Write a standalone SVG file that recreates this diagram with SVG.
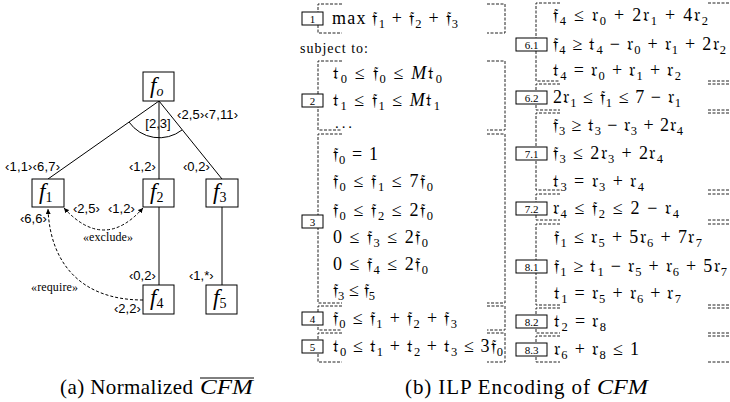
<svg xmlns="http://www.w3.org/2000/svg" width="730" height="402" viewBox="0 0 730 402">
<defs>
<marker id="ah" viewBox="0 0 6 6" refX="6" refY="3" markerWidth="5" markerHeight="5" orient="auto-start-reverse"><path d="M0,0 L6,3 L0,6 z" fill="#000"/></marker>
</defs>
<style>
.b{fill:#fff;stroke:#000;stroke-width:1}
.ln{fill:none;stroke:#000;stroke-width:1}
.dc{fill:none;stroke:#000;stroke-width:1;stroke-dasharray:3 2}
.d{fill:none;stroke:#222;stroke-width:1;stroke-dasharray:3 1.5}
.m{font-family:"Liberation Serif","DejaVu Serif",serif;font-size:18px;fill:#000}
.s{font-size:12.5px}
.i{font-style:italic}
.lb{font-family:"Liberation Serif",serif;font-size:11px;text-anchor:middle;fill:#000}
.c{font-family:"Liberation Sans",Arial,sans-serif;font-size:13px;fill:#000}
.n{font-family:"Liberation Serif",serif;font-size:23px;font-style:italic;fill:#000}
.ns{font-size:14px}
.st{font-family:"Liberation Serif",serif;font-size:12px;fill:#000}
.cap{font-family:"Liberation Serif",serif;font-size:21px;fill:#000}
</style>
<rect width="730" height="402" fill="#fff"/>

<!-- Left panel connectors -->
<g id="connectors">
<path class="ln" d="M159,101 L48,179 M159,101 L159,179 M159,101 L222,179 M159,207 L159,285 M222,207 L222,285"/>
<path class="ln" d="M129,122 A37,37 0 0 0 182,130"/>
<path class="dc" d="M64,208 Q104,252 143,208" marker-start="url(#ah)" marker-end="url(#ah)"/>
<path class="dc" d="M143,300 C80,300 50,262 48,209" marker-end="url(#ah)"/>
<text class="c" x="158" y="128" text-anchor="middle">[2,3]</text>
<text class="c" x="177" y="119" textLength="61">‹2,5›‹7,11›</text>
<text class="c" x="5" y="171" textLength="55">‹1,1›‹6,7›</text>
<text class="c" x="129" y="171">‹1,2›</text>
<text class="c" x="183" y="171">‹0,2›</text>
<text class="c" x="73" y="213">‹2,5›</text>
<text class="c" x="108" y="213">‹1,2›</text>
<text class="c" x="20" y="223">‹6,6›</text>
<text class="st" x="83" y="241" textLength="50">«exclude»</text>
<text class="c" x="129" y="280">‹0,2›</text>
<text class="c" x="189" y="280">‹1,*›</text>
<text class="st" x="31" y="291" textLength="47">«require»</text>
<text class="c" x="114" y="313">‹2,2›</text>
</g>

<g id="fo"><rect class="b" x="143" y="72" width="31" height="29"/><text class="n" x="150" y="93">f<tspan class="ns" dy="3">o</tspan></text></g>
<g id="f1"><rect class="b" x="32" y="179" width="32" height="28"/><text class="n" x="39" y="199">f<tspan class="ns" dy="3" style="font-style:normal">1</tspan></text></g>
<g id="f2"><rect class="b" x="143" y="179" width="31" height="28"/><text class="n" x="150" y="199">f<tspan class="ns" dy="3" style="font-style:normal">2</tspan></text></g>
<g id="f3"><rect class="b" x="206" y="179" width="32" height="28"/><text class="n" x="213" y="199">f<tspan class="ns" dy="3" style="font-style:normal">3</tspan></text></g>
<g id="f4"><rect class="b" x="143" y="285" width="31" height="29"/><text class="n" x="150" y="305">f<tspan class="ns" dy="3" style="font-style:normal">4</tspan></text></g>
<g id="f5"><rect class="b" x="206" y="285" width="31" height="29"/><text class="n" x="213" y="305">f<tspan class="ns" dy="3" style="font-style:normal">5</tspan></text></g>

<g id="capA"><text class="cap" x="60" y="394" textLength="133">(a) Normalized</text><text class="cap i" x="200" y="394" style="font-size:22px" textLength="53" lengthAdjust="spacingAndGlyphs">CFM</text><line x1="200" y1="378" x2="254" y2="378" stroke="#000" stroke-width="1"/></g>

<!-- Middle column -->
<g id="c1">
<path class="d" d="M342,4 H318 V33 H342 M487,4 H505 V33 H487"/>
<rect class="b" x="302" y="12" width="21" height="13"/><text class="lb" x="312.5" y="23">1</text>
<text class="m" x="332" y="24" textLength="126">max 𝔣<tspan class="s" dy="4">1</tspan><tspan dy="-4"> + 𝔣</tspan><tspan class="s" dy="4">2</tspan><tspan dy="-4"> + 𝔣</tspan><tspan class="s" dy="4">3</tspan></text>
</g>
<text class="st" x="300" y="53" style="font-size:14px" textLength="68">subject to:</text>
<g id="c2">
<path class="d" d="M342,61 H318 V130 H342 M487,61 H505 V130 H487"/>
<rect class="b" x="302" y="94" width="21" height="13"/><text class="lb" x="312.5" y="105">2</text>
<text class="m" x="333" y="79" textLength="109">𝔱<tspan class="s" dy="4">0</tspan><tspan dy="-4"> ≤ 𝔣</tspan><tspan class="s" dy="4">0</tspan><tspan dy="-4"> ≤ </tspan><tspan class="i">M</tspan>𝔱<tspan class="s" dy="4">0</tspan></text>
<text class="m" x="333" y="106" textLength="107">𝔱<tspan class="s" dy="4">1</tspan><tspan dy="-4"> ≤ 𝔣</tspan><tspan class="s" dy="4">1</tspan><tspan dy="-4"> ≤ </tspan><tspan class="i">M</tspan>𝔱<tspan class="s" dy="4">1</tspan></text>
<text class="m" x="335" y="128" style="font-size:15px" textLength="17">. . .</text>
</g>
<g id="c3">
<path class="d" d="M342,134 H318 V303 H342 M487,134 H505 V303 H487"/>
<rect class="b" x="302" y="215" width="21" height="13"/><text class="lb" x="312.5" y="226">3</text>
<text class="m" x="333" y="160" textLength="45">𝔣<tspan class="s" dy="4">0</tspan><tspan dy="-4"> = 1</tspan></text>
<text class="m" x="333" y="187" textLength="100">𝔣<tspan class="s" dy="4">0</tspan><tspan dy="-4"> ≤ 𝔣</tspan><tspan class="s" dy="4">1</tspan><tspan dy="-4"> ≤ 7𝔣</tspan><tspan class="s" dy="4">0</tspan></text>
<text class="m" x="333" y="216" textLength="100">𝔣<tspan class="s" dy="4">0</tspan><tspan dy="-4"> ≤ 𝔣</tspan><tspan class="s" dy="4">2</tspan><tspan dy="-4"> ≤ 2𝔣</tspan><tspan class="s" dy="4">0</tspan></text>
<text class="m" x="333" y="243" textLength="95">0 ≤ 𝔣<tspan class="s" dy="4">3</tspan><tspan dy="-4"> ≤ 2𝔣</tspan><tspan class="s" dy="4">0</tspan></text>
<text class="m" x="333" y="270" textLength="95">0 ≤ 𝔣<tspan class="s" dy="4">4</tspan><tspan dy="-4"> ≤ 2𝔣</tspan><tspan class="s" dy="4">0</tspan></text>
<text class="m" x="333" y="296" textLength="42">𝔣<tspan class="s" dy="4">3</tspan><tspan dy="-4"> ≤ 𝔣</tspan><tspan class="s" dy="4">5</tspan></text>
</g>
<g id="c4">
<path class="d" d="M342,306 H318 V330 H342 M487,306 H505 V330 H487"/>
<rect class="b" x="302" y="312" width="21" height="13"/><text class="lb" x="312.5" y="323">4</text>
<text class="m" x="333" y="324" textLength="124">𝔣<tspan class="s" dy="4">0</tspan><tspan dy="-4"> ≤ 𝔣</tspan><tspan class="s" dy="4">1</tspan><tspan dy="-4"> + 𝔣</tspan><tspan class="s" dy="4">2</tspan><tspan dy="-4"> + 𝔣</tspan><tspan class="s" dy="4">3</tspan></text>
</g>
<g id="c5">
<path class="d" d="M342,333 H318 V362 H342 M487,333 H505 V362 H487"/>
<rect class="b" x="302" y="340" width="21" height="13"/><text class="lb" x="312.5" y="351">5</text>
<text class="m" x="333" y="352" textLength="170">𝔱<tspan class="s" dy="4">0</tspan><tspan dy="-4"> ≤ 𝔱</tspan><tspan class="s" dy="4">1</tspan><tspan dy="-4"> + 𝔱</tspan><tspan class="s" dy="4">2</tspan><tspan dy="-4"> + 𝔱</tspan><tspan class="s" dy="4">3</tspan><tspan dy="-4"> ≤ 3𝔣</tspan><tspan class="s" dy="4">0</tspan></text>
</g>

<!-- Right column -->
<g id="c61">
<path class="d" d="M560,3 H536 V81 H560 M708,3 H730 M708,81 H730"/>
<rect class="b" x="516" y="38" width="31" height="13"/><text class="lb" x="531.5" y="49">6.1</text>
<text class="m" x="553" y="21" textLength="155">𝔣<tspan class="s" dy="4">4</tspan><tspan dy="-4"> ≤ 𝔯</tspan><tspan class="s" dy="4">0</tspan><tspan dy="-4"> + 2𝔯</tspan><tspan class="s" dy="4">1</tspan><tspan dy="-4"> + 4𝔯</tspan><tspan class="s" dy="4">2</tspan></text>
<text class="m" x="553" y="50" textLength="173">𝔣<tspan class="s" dy="4">4</tspan><tspan dy="-4"> ≥ 𝔱</tspan><tspan class="s" dy="4">4</tspan><tspan dy="-4"> − 𝔯</tspan><tspan class="s" dy="4">0</tspan><tspan dy="-4"> + 𝔯</tspan><tspan class="s" dy="4">1</tspan><tspan dy="-4"> + 2𝔯</tspan><tspan class="s" dy="4">2</tspan></text>
<text class="m" x="553" y="76" textLength="128">𝔱<tspan class="s" dy="4">4</tspan><tspan dy="-4"> = 𝔯</tspan><tspan class="s" dy="4">0</tspan><tspan dy="-4"> + 𝔯</tspan><tspan class="s" dy="4">1</tspan><tspan dy="-4"> + 𝔯</tspan><tspan class="s" dy="4">2</tspan></text>
</g>
<g id="c62">
<path class="d" d="M560,84 H536 V110 H560 M708,84 H730 M708,110 H730"/>
<rect class="b" x="516" y="91" width="31" height="13"/><text class="lb" x="531.5" y="102">6.2</text>
<text class="m" x="553" y="103" textLength="128">2𝔯<tspan class="s" dy="4">1</tspan><tspan dy="-4"> ≤ 𝔣</tspan><tspan class="s" dy="4">1</tspan><tspan dy="-4"> ≤ 7 − 𝔯</tspan><tspan class="s" dy="4">1</tspan></text>
</g>
<g id="c71">
<path class="d" d="M560,113 H536 V190 H560 M708,113 H730 M708,190 H730"/>
<rect class="b" x="516" y="147" width="31" height="13"/><text class="lb" x="531.5" y="158">7.1</text>
<text class="m" x="553" y="131" textLength="130">𝔣<tspan class="s" dy="4">3</tspan><tspan dy="-4"> ≥ 𝔱</tspan><tspan class="s" dy="4">3</tspan><tspan dy="-4"> − 𝔯</tspan><tspan class="s" dy="4">3</tspan><tspan dy="-4"> + 2𝔯</tspan><tspan class="s" dy="4">4</tspan></text>
<text class="m" x="553" y="159" textLength="110">𝔣<tspan class="s" dy="4">3</tspan><tspan dy="-4"> ≤ 2𝔯</tspan><tspan class="s" dy="4">3</tspan><tspan dy="-4"> + 2𝔯</tspan><tspan class="s" dy="4">4</tspan></text>
<text class="m" x="553" y="187" textLength="91">𝔱<tspan class="s" dy="4">3</tspan><tspan dy="-4"> = 𝔯</tspan><tspan class="s" dy="4">3</tspan><tspan dy="-4"> + 𝔯</tspan><tspan class="s" dy="4">4</tspan></text>
</g>
<g id="c72">
<path class="d" d="M560,194 H536 V220 H560 M708,194 H730 M708,220 H730"/>
<rect class="b" x="516" y="202" width="31" height="13"/><text class="lb" x="531.5" y="213">7.2</text>
<text class="m" x="553" y="214" textLength="126">𝔯<tspan class="s" dy="4">4</tspan><tspan dy="-4"> ≤ 𝔣</tspan><tspan class="s" dy="4">2</tspan><tspan dy="-4"> ≤ 2 − 𝔯</tspan><tspan class="s" dy="4">4</tspan></text>
</g>
<g id="c81">
<path class="d" d="M560,224 H536 V305 H560 M708,224 H730 M708,305 H730"/>
<rect class="b" x="516" y="260" width="31" height="13"/><text class="lb" x="531.5" y="271">8.1</text>
<text class="m" x="554" y="243" textLength="148">𝔣<tspan class="s" dy="4">1</tspan><tspan dy="-4"> ≤ 𝔯</tspan><tspan class="s" dy="4">5</tspan><tspan dy="-4"> + 5𝔯</tspan><tspan class="s" dy="4">6</tspan><tspan dy="-4"> + 7𝔯</tspan><tspan class="s" dy="4">7</tspan></text>
<text class="m" x="554" y="272" textLength="173">𝔣<tspan class="s" dy="4">1</tspan><tspan dy="-4"> ≥ 𝔱</tspan><tspan class="s" dy="4">1</tspan><tspan dy="-4"> − 𝔯</tspan><tspan class="s" dy="4">5</tspan><tspan dy="-4"> + 𝔯</tspan><tspan class="s" dy="4">6</tspan><tspan dy="-4"> + 5𝔯</tspan><tspan class="s" dy="4">7</tspan></text>
<text class="m" x="554" y="299" textLength="127">𝔱<tspan class="s" dy="4">1</tspan><tspan dy="-4"> = 𝔯</tspan><tspan class="s" dy="4">5</tspan><tspan dy="-4"> + 𝔯</tspan><tspan class="s" dy="4">6</tspan><tspan dy="-4"> + 𝔯</tspan><tspan class="s" dy="4">7</tspan></text>
</g>
<g id="c82">
<path class="d" d="M560,308 H536 V333 H560 M708,308 H730 M708,333 H730"/>
<rect class="b" x="516" y="315" width="31" height="13"/><text class="lb" x="531.5" y="326">8.2</text>
<text class="m" x="554" y="327" textLength="52">𝔱<tspan class="s" dy="4">2</tspan><tspan dy="-4"> = 𝔯</tspan><tspan class="s" dy="4">8</tspan></text>
</g>
<g id="c83">
<path class="d" d="M560,336 H536 V362 H560 M708,336 H730 M708,362 H730"/>
<rect class="b" x="516" y="343" width="31" height="13"/><text class="lb" x="531.5" y="354">8.3</text>
<text class="m" x="554" y="355" textLength="85">𝔯<tspan class="s" dy="4">6</tspan><tspan dy="-4"> + 𝔯</tspan><tspan class="s" dy="4">8</tspan><tspan dy="-4"> ≤ 1</tspan></text>
</g>

<g id="capB"><text class="cap" x="405" y="394" textLength="185">(b) ILP Encoding of</text><text class="cap i" x="597" y="394" style="font-size:22px" textLength="51" lengthAdjust="spacingAndGlyphs">CFM</text></g>
</svg>
